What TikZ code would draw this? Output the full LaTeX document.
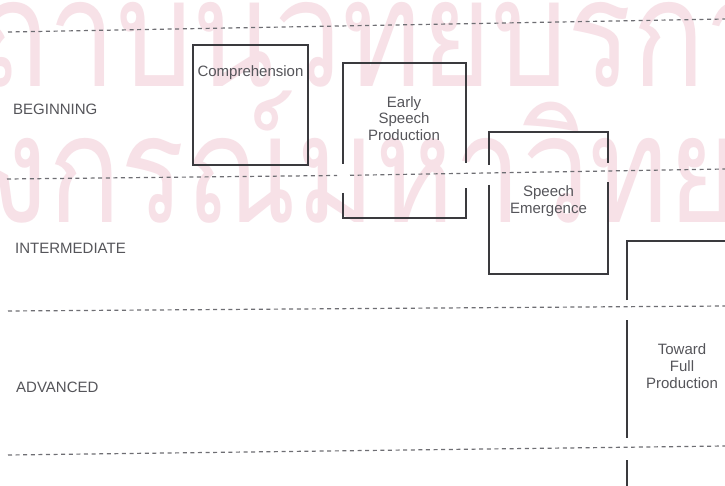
\documentclass[tikz,border=0pt]{standalone}
\usepackage{fontspec}
\setmainfont{Liberation Sans}
\newfontfamily\thaifont[Script=Thai]{Loma}
\definecolor{boxgray}{RGB}{58,58,62}
\definecolor{dashgray}{RGB}{110,110,115}
\definecolor{txtgray}{RGB}{85,85,90}
\definecolor{wmpink}{RGB}{247,225,231}
\begin{document}
\begin{tikzpicture}[x=1pt,y=-1pt,
  box/.style={draw=boxgray, line width=2pt},
  divider/.style={draw=dashgray, line width=1.2pt, dash pattern=on 4pt off 3.6pt},
  lbl/.style={text=txtgray, font=\fontsize{15}{17}\selectfont, inner sep=0pt, anchor=west},
  stage/.style={text=txtgray, font=\fontsize{15}{16.8}\selectfont, align=center, inner sep=0pt},
  wm/.style={text=wmpink, font=\thaifont\fontsize{150}{150}\selectfont, inner sep=0pt, anchor=base west},
]
\useasboundingbox (0,0) rectangle (725,486);
\clip (0,0) rectangle (725,486);
\fill[white] (0,0) rectangle (725,486);
% watermark
\node[wm] (wmA) at (-97,87) {\scalebox{0.8}[1]{สถาบันวิทยบริการ}};
\node[wm] (wmB) at (-304,223) {\scalebox{0.8}[1]{จุฬาลงกรณ์มหาวิทยาลัย}};
% dividers
\draw[divider] (8,32) -- (725,19);
\draw[divider] (7,179) -- (337,175.5);
\draw[divider] (350,175.3) -- (725,169);
\draw[divider] (8,311) -- (725,306);
\draw[divider] (8,455) -- (725,446);
% level labels
\node[lbl] (beg) at (13,109) {BEGINNING};
\node[lbl] (int) at (15,248) {INTERMEDIATE};
\node[lbl] (adv) at (16,387) {ADVANCED};
% stage boxes
\draw[box] (193,45) rectangle (308,165);
\draw[box] (343,164) -- (343,63) -- (466,63) -- (466,163);
\draw[box] (343,193) -- (343,218) -- (466,218) -- (466,188);
\draw[box] (489,165) -- (489,132) -- (608,132) -- (608,163);
\draw[box] (489,185) -- (489,274) -- (608,274) -- (608,182);
\draw[box] (627,300) -- (627,241) -- (730,241);
\draw[box] (627,320) -- (627,438);
\draw[box] (627,460) -- (627,490);
% stage texts
\node[stage] (comp) at (250.5,73) {Comprehension};
\node[stage] (esp) at (404,118.5) {Early\\Speech\\Production};
\node[stage] (se) at (548.5,201.5) {Speech\\Emergence};
\node[stage] (tfp) at (682,366) {Toward\\Full\\Production};
\end{tikzpicture}
\end{document}
